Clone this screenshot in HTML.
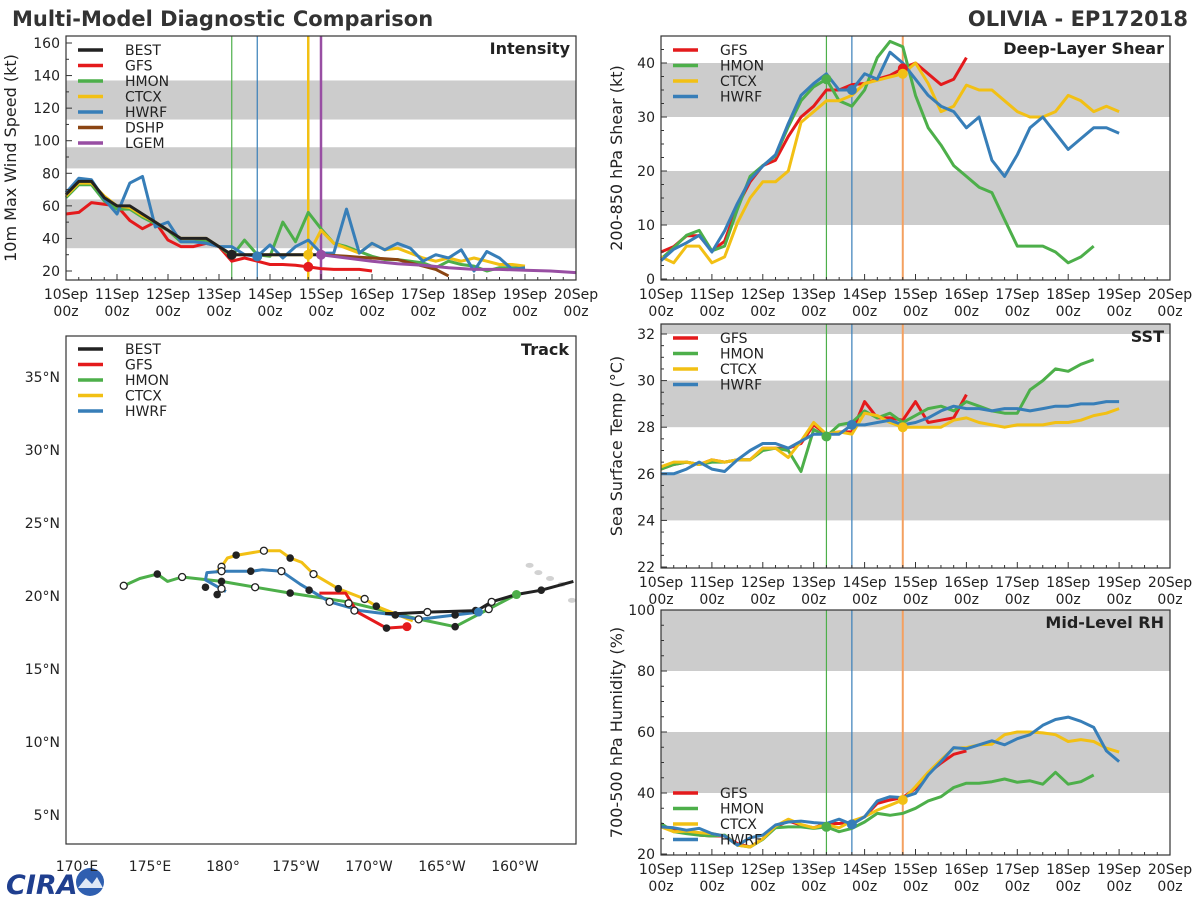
<!DOCTYPE html>
<html><head><meta charset="utf-8">
<style>
html,body{margin:0;padding:0;background:#fff;}
svg{display:block;font-family:"DejaVu Sans","Liberation Sans",sans-serif;}
</style></head>
<body>
<svg id="fig" width="1200" height="900" viewBox="0 0 1200 900" xmlns="http://www.w3.org/2000/svg">
<defs><clipPath id="trkclip"><rect x="66" y="336" width="510" height="508"/></clipPath></defs>
<text x="12" y="26" font-size="21" font-weight="bold" fill="#333">Multi-Model Diagnostic Comparison</text>
<text x="1188" y="26" font-size="21" font-weight="bold" fill="#333" text-anchor="end">OLIVIA - EP172018</text>
<g>
<text x="6" y="894" font-size="27" font-weight="bold" font-style="italic" fill="#1f3f8f">CIRA</text>
<circle cx="90" cy="882" r="14" fill="#2f5fb0"/>
<path d="M78 888 L86 878 L92 884 L97 877 L103 888 Z" fill="#dfe8f5"/>
</g>
</svg>
<script>
// ---------- shared time data ----------
const dayLabels = ["10Sep","11Sep","12Sep","13Sep","14Sep","15Sep","16Sep","17Sep","18Sep","19Sep","20Sep"];
const initHours = [78, 90, 114];
// ---------- intensity ----------
const intBEST = [67,75,75,65,60,60,55,50,45,40,40,40,35,30,30,30,30,30,30,30,30];
const intGFS = [55,56,62,61,60,51,46,50,39,35,35,37,35,26,28,26,24,24,23.5,22.5,21.5,21,21,21,20];
const intHMON = [65,73,73,63,58,58,53,49,45,38,38,39,35,29,39,30,29,50,38,56,46,37,35,32,29,27,27,26,25,22,26,24,23,20,22,22,22];
const intCTCX = [66,74,74,66,60,59,54,50,45,40,40,40,35,30,30,30,30,30,30,30,45,37,34,31,37,33,34,31,28,26,28,26,28,26,24,24,23];
const intHWRF = [68,77,76,64,55,74,78,47,50,38,38,37,35,35,30,29,36,28,35,39,31,31,58,31,37,33,37,34,26,30,28,33,20,32,28,21,22];
const intDSHP = [30,29.5,29,28.5,28,27.5,27,25,23,21,17];
const intLGEM = [30,28,26,24.5,23.5,22,21,21,20.5,20,19];
const intTicks = [20,40,60,80,100,120,140,160];
// ---------- shear ----------
const shrGFS = [5,6,8,8,5.2,7,13.5,18,21,22,26.4,30,32,35,35,36,36.2,37,37.7,39,40,38,36,37,41];
const shrHMON = [3.7,5.8,8.1,9,5.2,6.1,12.9,19,21,22.8,28.2,33,35.6,37,33,32,35,41,44,43,34,28,24.8,21,19,17,16,11,6.1,6.1,6.1,5,3,4.1,6.1];
const shrCTCX = [4.1,3,6.1,6.1,3,4.1,10.4,15,18,18,20,29,31,33,33,34,36.2,36.8,37.4,38,40,36.2,31,32,35.9,35,35,33,31,30,30,31,34,33,31,32,31];
const shrHWRF = [3.4,5.5,6.7,8.1,5,8.9,14,18.4,20.9,23,28.8,34,36.2,38,35,35,38,37,42,40,37,34,32,31,28,30,22,19,23,28,30,27,24,26,28,28,27];
const shrTicks = [0,10,20,30,40];
// ---------- SST ----------
const sstGFS = [26.2,26.4,26.5,26.4,26.6,26.5,26.6,26.6,27.1,27.1,27.1,27.3,28.1,27.7,27.8,27.8,29.1,28.4,28.4,28.3,29.1,28.2,28.3,28.4,29.4];
const sstHMON = [26.2,26.4,26.5,26.4,26.5,26.5,26.6,26.6,27,27.1,27,26.1,27.9,27.6,28.1,28.2,28.7,28.4,28.6,28.2,28.5,28.8,28.9,28.7,29.1,28.9,28.7,28.6,28.6,29.6,30,30.5,30.4,30.7,30.9];
const sstCTCX = [26.3,26.5,26.5,26.4,26.6,26.5,26.6,26.6,27.1,27.1,26.7,27.4,28.2,27.7,27.8,27.7,28.6,28.5,28.2,28,28,28,28,28.3,28.4,28.2,28.1,28,28.1,28.1,28.1,28.2,28.2,28.3,28.5,28.6,28.8];
const sstHWRF = [26,26,26.2,26.5,26.2,26.1,26.6,27,27.3,27.3,27.1,27.4,27.7,27.7,27.7,28.1,28.1,28.2,28.3,28.1,28.2,28.4,28.7,28.9,28.8,28.8,28.7,28.8,28.8,28.7,28.8,28.9,28.9,29,29,29.1,29.1];
const sstTicks = [22,24,26,28,30,32];
// ---------- RH ----------
const rhGFS = [29.5,27.8,27.3,26.2,25.9,25.9,23.4,22.3,25,28.9,30.8,29.5,28.6,30,30,30.5,32.2,36.6,37.7,38.5,41.5,46.5,49.8,52.7,53.8];
const rhHMON = [30,27.3,26.7,26.2,25.9,26.2,22.9,22.3,24.8,28.6,28.9,28.9,28.4,28.9,27.3,28.4,30.5,33.3,32.7,33.3,35,37.4,38.8,41.8,43.2,43.2,43.7,44.6,43.5,44,42.9,46.8,42.9,43.7,45.9];
const rhCTCX = [28.9,27.3,27.5,27,26.7,25.9,22.9,22.3,25,29.1,31.4,29.7,28.6,29.7,28.6,30.8,32.2,34.4,36,37.7,42.1,46.8,50.9,54.7,54.9,55.8,56,59.1,60,60,59.7,59.1,56.9,57.5,56.9,54.7,53.4];
const rhHWRF = [28.9,28.6,27.8,28.4,26.7,25.9,22.9,25.3,26.2,29.5,30.5,30.8,30.3,30,31.4,29.7,32.2,37.4,38.8,38.5,39.9,45.9,50.3,54.9,54.5,55.8,57.1,55.8,57.8,59.1,62.2,64.1,64.9,63.5,61.5,53.8,50.3];
const rhTicks = [20,40,60,80,100];
// ---------- track (lon in deg east, lat in deg north) ----------
const trkBESTlon = [204.0,201.8,200.1,198.4,197.4,194.0,192.1,191.1];
const trkBESTlat = [21.0,20.4,20.1,19.6,19.0,18.9,18.8,18.8];
const trkGFSlon = [192.6,191.2,189.2,188.4,186.6];
const trkGFSlat = [17.9,17.8,18.9,20.2,20.2];
const trkHMONlon = [200.1,195.9,193.5,188.5,184.6,182.2,179.9,177.2,176.2,175.5,174.3,173.2];
const trkHMONlat = [20.1,17.9,18.4,19.6,20.2,20.6,21.0,21.3,21.0,21.5,21.2,20.7];
const trkCTCXlon = [193.0,190.5,189.7,187.9,186.2,185.4,184.6,183.9,182.8,181.0,180.3,179.9,179.5];
const trkCTCXlat = [18.3,19.3,19.8,20.5,21.5,22.3,22.6,23.1,23.1,22.8,22.6,22.0,21.6];
const trkHWRFlon = [197.5,195.9,193.4,191.8,189.4,187.3,185.3,184.0,182.7,182.0,180.0,178.9,178.8,180.2];
const trkHWRFlat = [18.9,18.7,18.4,18.7,19.0,19.6,20.8,21.7,21.8,21.7,21.7,21.6,21.1,20.3];
const dotFilledLon = [175.5,178.8,179.6,179.9,180.9,181.9,184.6,184.6,185.9,187.9,190.5,191.2,191.8,195.9,195.9,197.3,201.8];
const dotFilledLat = [21.5,20.6,20.1,21.0,22.8,21.7,22.6,20.2,20.4,20.5,19.3,17.8,18.7,18.7,17.9,19.0,20.4];
const dotOpenLon = [173.2,177.2,179.9,179.9,179.9,182.8,182.2,184.0,186.2,187.3,188.6,189.0,189.7,193.4,194.0,198.2,198.4];
const dotOpenLat = [20.7,21.3,22.0,21.7,20.5,23.1,20.6,21.7,21.5,19.6,19.5,19.0,19.8,18.4,18.9,19.1,19.6];
const islandLon = [201.0,201.6,202.4,203.2,203.9];
const islandLat = [22.1,21.6,21.2,20.8,19.7];
const lonTicks = [170,175,180,185,190,195,200];
const lonLabels = ["170°E","175°E","180°","175°W","170°W","165°W","160°W"];
const latTicks = [5,10,15,20,25,30,35];

const C = {BEST:"#222222",GFS:"#e41a1c",HMON:"#4daf4a",CTCX:"#f2c014",HWRF:"#377eb8",DSHP:"#8b4513",LGEM:"#984ea3"};
const NS = "http://www.w3.org/2000/svg";
const fig = document.getElementById("fig");
function mk(tag, attrs, parent){
  const e = document.createElementNS(NS, tag);
  for (const k in attrs) e.setAttribute(k, attrs[k]);
  (parent||fig).appendChild(e);
  return e;
}

function timePanel(p){
  const g = mk("g", {});
  
  
  const X = h => p.x0 + h/240*(p.x1-p.x0);
  const Y = v => p.yA + (v - p.vA)*(p.yB - p.yA)/(p.vB - p.vA);
  p.bands.forEach(b=>{
    const y1 = Math.max(p.y0, Y(b[1])), y2 = Math.min(p.y1, Y(b[0]));
    const r = mk("rect", {x:p.x0, y:y1, width:p.x1-p.x0, height:y2-y1, fill:"#cccccc"}, g);
    
    
  });
  p.vlines.forEach(v=>{
    const l = mk("line", {x1:X(v[0]), x2:X(v[0]), y1:p.y0, y2:p.y1, stroke:v[1], "stroke-width":v[2]}, g);
    
    
  });
  p.series.forEach(s=>{
    const pts = s.data.map((v,i)=>X(Math.min(240, s.start + i*s.step)).toFixed(1)+","+Y(v).toFixed(1)).join(" ");
    const pl = mk("polyline", {points:pts, fill:"none", stroke:C[s.m], "stroke-width":3, "stroke-linejoin":"round"}, g);
    
    
  });
  p.dots.forEach(d=>{
    const s = p.series.find(q=>q.m===d[0]);
    const idx = Math.round((d[1]-s.start)/s.step);
    const c = mk("circle", {cx:X(d[1]), cy:Y(s.data[idx]), r:5, fill:C[d[0]]}, g);
    
    
  });
  const fr = mk("rect", {x:p.x0, y:p.y0, width:p.x1-p.x0, height:p.y1-p.y0, fill:"none", stroke:"#333", "stroke-width":1.2}, g);
  
  
  for (let h=0; h<=240; h+=6){
    const big = h%24===0;
    const t = mk("line", {x1:X(h), x2:X(h), y1:p.y1, y2:p.y1-(big?6:3), stroke:"#333"}, g);
    
    
  }
  dayLabels.forEach((lab,i)=>{
    const t = mk("text", {x:X(i*24), y:p.y1+19, "font-size":14, "text-anchor":"middle", fill:"#222"}, g);
    t.textContent = lab;
    
    
    const t2 = mk("text", {x:X(i*24), y:p.y1+36, "font-size":14, "text-anchor":"middle", fill:"#222"}, g);
    t2.textContent = "00z";
    
    
  });
  for (let v=p.minorStart; v<=p.vmax+1e-6; v+=p.minor){
    const y = Y(v); if (y < p.y0-0.5 || y > p.y1+0.5) continue;
    const major = p.ticks.some(tk=>Math.abs(tk-v)<1e-6);
    const t = mk("line", {x1:p.x0, x2:p.x0+(major?6:3), y1:y, y2:y, stroke:"#333"}, g);
    
    
  }
  p.ticks.forEach(v=>{
    const t = mk("text", {x:p.x0-6, y:Y(v)+5, "font-size":14, "text-anchor":"end", fill:"#222"}, g);
    t.textContent = v;
    
    
  });
  const cy = (p.y0+p.y1)/2;
  const yt = mk("text", {x:p.ytx, y:cy, "font-size":16, "text-anchor":"middle", fill:"#222", transform:`rotate(-90 ${p.ytx} ${cy})`}, g);
  yt.textContent = p.ytitle;
  
  
  const pt = mk("text", {x:p.x1-6, y:p.y0+18, "font-size":16, "font-weight":"bold", "text-anchor":"end", fill:"#222"}, g);
  pt.textContent = p.title;
  
  
  legend(g, p.x0+12, p.legY, p.legend);
}

function legend(g, x, y, names){
  names.forEach((n,i)=>{
    const yy = y + i*15.5;
    const l = mk("line", {x1:x, x2:x+25, y1:yy, y2:yy, stroke:C[n], "stroke-width":3.5}, g);
    
    
    const t = mk("text", {x:x+47, y:yy+5, "font-size":14, fill:"#222"}, g);
    t.textContent = n;
    
    
  });
}

timePanel({name:"intensity", x0:66, x1:576, y0:36, y1:280, yA:271, vA:20, yB:43, vB:160, vmax:165, minorStart:20, minor:10,
  ticks:intTicks, bands:[[34,64],[83,96],[113,137]],
  vlines:[[initHours[0],"#4daf4a",1.2],[initHours[1],"#377eb8",1.2],[initHours[2],"#f2c014",2.5],[120,"#984ea3",2.5]],
  series:[{m:"GFS",start:0,step:6,data:intGFS},{m:"HMON",start:0,step:6,data:intHMON},{m:"CTCX",start:0,step:6,data:intCTCX},
          {m:"HWRF",start:0,step:6,data:intHWRF},{m:"DSHP",start:120,step:6,data:intDSHP},{m:"LGEM",start:120,step:12,data:intLGEM},
          {m:"BEST",start:0,step:6,data:intBEST}],
  dots:[["BEST",78],["HWRF",90],["GFS",114],["CTCX",114],["LGEM",120]],
  ytx:16, ytitle:"10m Max Wind Speed (kt)", title:"Intensity", legY:50, legend:["BEST","GFS","HMON","CTCX","HWRF","DSHP","LGEM"]});

timePanel({name:"shear", x0:661, x1:1170, y0:36, y1:280, yA:279, vA:0, yB:63, vB:40, vmax:45, minorStart:0, minor:2.5,
  ticks:shrTicks, bands:[[10,20],[30,40]],
  vlines:[[initHours[0],"#4daf4a",1.2],[initHours[1],"#377eb8",1.2],[initHours[2],"#f4a060",2]],
  series:[{m:"GFS",start:0,step:6,data:shrGFS},{m:"HMON",start:0,step:6,data:shrHMON},{m:"CTCX",start:0,step:6,data:shrCTCX},{m:"HWRF",start:0,step:6,data:shrHWRF}],
  dots:[["HMON",78],["HWRF",90],["GFS",114],["CTCX",114]],
  ytx:622, ytitle:"200-850 hPa Shear (kt)", title:"Deep-Layer Shear", legY:50, legend:["GFS","HMON","CTCX","HWRF"]});

timePanel({name:"sst", x0:661, x1:1170, y0:324, y1:568, yA:567, vA:22, yB:334, vB:32, vmax:32.5, minorStart:22, minor:0.5,
  ticks:sstTicks, bands:[[24,26],[28,30],[32,34]],
  vlines:[[initHours[0],"#4daf4a",1.2],[initHours[1],"#377eb8",1.2],[initHours[2],"#f4a060",2]],
  series:[{m:"GFS",start:0,step:6,data:sstGFS},{m:"HMON",start:0,step:6,data:sstHMON},{m:"CTCX",start:0,step:6,data:sstCTCX},{m:"HWRF",start:0,step:6,data:sstHWRF}],
  dots:[["HMON",78],["HWRF",90],["CTCX",114]],
  ytx:622, ytitle:"Sea Surface Temp (°C)", title:"SST", legY:338, legend:["GFS","HMON","CTCX","HWRF"]});

timePanel({name:"rh", x0:661, x1:1170, y0:610, y1:855, yA:854, vA:20, yB:610, vB:100, vmax:100, minorStart:20, minor:5,
  ticks:rhTicks, bands:[[40,60],[80,100]],
  vlines:[[initHours[0],"#4daf4a",1.2],[initHours[1],"#377eb8",1.2],[initHours[2],"#f4a060",2]],
  series:[{m:"GFS",start:0,step:6,data:rhGFS},{m:"HMON",start:0,step:6,data:rhHMON},{m:"CTCX",start:0,step:6,data:rhCTCX},{m:"HWRF",start:0,step:6,data:rhHWRF}],
  dots:[["HMON",78],["HWRF",90],["CTCX",114]],
  ytx:622, ytitle:"700-500 hPa Humidity (%)", title:"Mid-Level RH", legY:793, legend:["GFS","HMON","CTCX","HWRF"]});

// ---------- track panel ----------
(function(){
  const g = mk("g", {});
  
  
  const x0=66,x1=576,y0=336,y1=844;
  const LX = lon => 223 + (lon-180)*14.6;
  const LY = lat => 596 - (lat-20)*14.6;
  const cg = mk("g", {"clip-path":"url(#trkclip)"}, g);
  
  
  islandLon.forEach((lo,i)=>{
    const e = mk("ellipse", {cx:LX(lo), cy:LY(islandLat[i]), rx:4, ry:2.5, fill:"#d2d2d2"}, cg);
    
    
  });
  const tracks = [["HMON",trkHMONlon,trkHMONlat],["CTCX",trkCTCXlon,trkCTCXlat],["HWRF",trkHWRFlon,trkHWRFlat],["GFS",trkGFSlon,trkGFSlat],["BEST",trkBESTlon,trkBESTlat]];
  tracks.forEach(t=>{
    const pts = t[1].map((lo,i)=>LX(lo).toFixed(1)+","+LY(t[2][i]).toFixed(1)).join(" ");
    const pl = mk("polyline", {points:pts, fill:"none", stroke:C[t[0]], "stroke-width":3, "stroke-linejoin":"round"}, cg);
    
    
  });
  dotFilledLon.forEach((lo,i)=>{
    const c = mk("circle", {cx:LX(lo), cy:LY(dotFilledLat[i]), r:3.8, fill:"#222"}, cg);
    
    
  });
  dotOpenLon.forEach((lo,i)=>{
    const c = mk("circle", {cx:LX(lo), cy:LY(dotOpenLat[i]), r:3.5, fill:"#fff", stroke:"#222", "stroke-width":1.3}, cg);
    
    
  });
  [["GFS",0],["HMON",0],["HWRF",0]].forEach(d=>{
    const src = tracks.find(t=>t[0]===d[0]);
    const c = mk("circle", {cx:LX(src[1][d[1]]), cy:LY(src[2][d[1]]), r:4.5, fill:C[d[0]]}, cg);
    
    
  });
  const fr = mk("rect", {x:x0, y:y0, width:x1-x0, height:y1-y0, fill:"none", stroke:"#333", "stroke-width":1.2}, g);
  
  
  lonTicks.forEach((lo,i)=>{
    const t = mk("text", {x:LX(lo), y:871, "font-size":14, "text-anchor":"middle", fill:"#222"}, g);
    t.textContent = lonLabels[i];
    
    
  });
  latTicks.forEach(la=>{
    const t = mk("text", {x:60, y:LY(la)+5, "font-size":14, "text-anchor":"end", fill:"#222"}, g);
    t.textContent = la + "°N";
    
    
  });
  const pt = mk("text", {x:x1-7, y:y0+19, "font-size":16, "font-weight":"bold", "text-anchor":"end", fill:"#222"}, g);
  pt.textContent = "Track";
  
  
  legend(g, 78, 349, ["BEST","GFS","HMON","CTCX","HWRF"]);
})();
</script>
</body></html>
